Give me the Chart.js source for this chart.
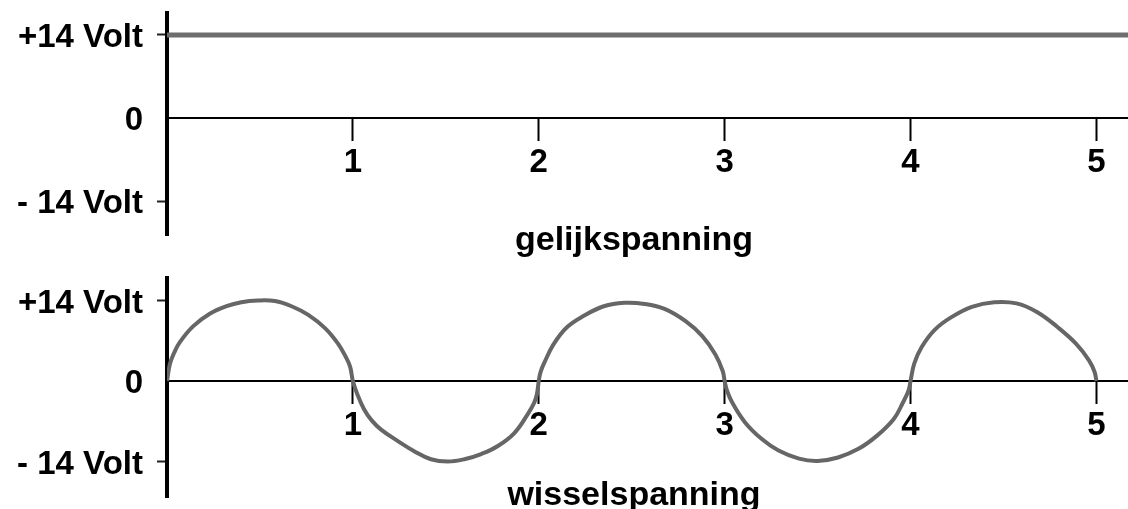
<!DOCTYPE html>
<html lang="nl">
<head>
<meta charset="utf-8">
<title>Gelijkspanning en wisselspanning</title>
<script src="https://cdn.jsdelivr.net/npm/chart.js@4.4.1/dist/chart.umd.min.js"></script>
<style>
  html, body { margin: 0; padding: 0; background: #fff; }
  #wrap { position: relative; width: 1128px; height: 509px; }
  canvas { position: absolute; left: 0; }
  #dcChart { top: 0; }
  #acChart { top: 260px; }
</style>
</head>
<body>
<div id="wrap">
  <canvas id="dcChart" width="1128" height="260"></canvas>
  <canvas id="acChart" width="1128" height="249"></canvas>
</div>
<script>
// Axis ticks: time in periods, voltage in volts
const timeTicks = [1, 2, 3, 4, 5];
const voltTicks = [-14, 0, 14];
const voltLabels = ['- 14 Volt', '0', '+14 Volt'];

// Direct voltage: a flat +14 V
const dcTime = [0, 5.17];
const dcVolt = [14, 14];

// Alternating voltage, one row per half period
const acTime = [
  0, 0.016, 0.04, 0.07, 0.14, 0.23, 0.32, 0.40, 0.49, 0.58, 0.67, 0.76, 0.85, 0.92, 0.96, 0.985,
  1, 1.024, 1.06, 1.10, 1.15, 1.24, 1.33, 1.42, 1.51, 1.60, 1.69, 1.78, 1.87, 1.94, 1.975, 1.99,
  2, 2.01, 2.03, 2.08, 2.15, 2.24, 2.35, 2.46, 2.57, 2.68, 2.79, 2.88, 2.95, 2.99,
  3, 3.012, 3.04, 3.11, 3.20, 3.29, 3.40, 3.50, 3.61, 3.72, 3.82, 3.91, 3.96, 3.99,
  4, 4.02, 4.06, 4.13, 4.22, 4.33, 4.45, 4.57, 4.68, 4.79, 4.89, 4.96, 4.99, 5
];
const acVolt = [
  0, 3.0, 5.0, 6.8, 9.5, 11.7, 13.0, 13.7, 14.0, 13.9, 13.0, 11.5, 9.2, 6.5, 4.3, 2.5,
  0, -2.3, -4.9, -6.8, -8.4, -10.4, -12.2, -13.6, -14.0, -13.6, -12.7, -11.3, -9.0, -5.8, -3.8, -2.3,
  0, 1.6, 3.2, 6.4, 9.3, 11.3, 13.0, 13.6, 13.4, 12.5, 10.4, 7.8, 4.6, 1.7,
  0, -1.6, -3.7, -7.2, -10.1, -12.1, -13.5, -13.9, -13.3, -11.8, -9.5, -6.6, -3.7, -1.6,
  0, 3.0, 5.9, 8.9, 11.1, 12.9, 13.7, 13.5, 12.0, 9.4, 6.5, 3.6, 1.6, 0
];

const FONT = '"Liberation Sans", Arial, sans-serif';

// Caption under each panel
const captionPlugin = {
  id: 'caption',
  afterDraw(chart, args, opts) {
    const ctx = chart.ctx;
    ctx.save();
    ctx.font = 'bold 34px ' + FONT;
    ctx.fillStyle = '#000';
    ctx.textAlign = 'center';
    ctx.textBaseline = 'alphabetic';
    ctx.fillText(opts.text, opts.x, opts.y);
    ctx.restore();
  }
};

// tick labels may hang outside the plot, they must not shrink it
function noLabelPadding(scale) {
  scale.paddingTop = 0;
  scale.paddingBottom = 0;
  scale.paddingLeft = 0;
  scale.paddingRight = 0;
}

function makeChart(canvasId, time, volt, cfg) {
  const points = time.map((t, i) => ({ x: t, y: volt[i] }));

  return new Chart(document.getElementById(canvasId), {
    type: 'line',
    data: {
      datasets: [{
        data: points,
        borderColor: cfg.lineColor,
        borderWidth: cfg.lineWidth,
        pointRadius: 0,
        tension: 0.4,
        fill: false
      }]
    },
    options: {
      responsive: false,
      animation: false,
      events: [],
      layout: { padding: { top: cfg.padTop, bottom: cfg.padBottom, left: 0, right: 0 } },
      plugins: {
        legend: { display: false },
        tooltip: { enabled: false },
        caption: { text: cfg.caption, x: 634, y: cfg.captionY }
      },
      scales: {
        x: {
          type: 'linear',
          min: 0,
          max: 5.17,
          position: { y: 0 },
          afterBuildTicks: scale => { scale.ticks = timeTicks.map(v => ({ value: v })); },
          afterFit: noLabelPadding,
          grid: { drawOnChartArea: false, tickLength: 22, tickColor: '#000', tickWidth: 2 },
          border: { color: '#000', width: 2 },
          ticks: {
            color: '#000',
            padding: 3,
            font: { family: FONT, size: 33, weight: 'bold' },
            callback: v => String(v)
          }
        },
        y: {
          type: 'linear',
          min: cfg.yMin,
          max: cfg.yMax,
          afterFit: scale => { scale.width = 167; noLabelPadding(scale); },
          afterBuildTicks: scale => { scale.ticks = voltTicks.map(v => ({ value: v })); },
          grid: {
            drawOnChartArea: false,
            tickLength: 10,
            tickWidth: 2,
            tickColor: c => (c.tick && c.tick.value === 0) ? 'rgba(0,0,0,0)' : '#222'
          },
          border: { color: '#000', width: 4 },
          ticks: {
            color: '#000',
            padding: 14,
            labelOffset: 3,
            font: { family: FONT, size: 33, weight: 'bold' },
            callback: v => voltLabels[voltTicks.indexOf(v)]
          }
        }
      }
    },
    plugins: [captionPlugin]
  });
}

makeChart('dcChart', dcTime, dcVolt, {
  lineColor: '#6e6e6e', lineWidth: 5,
  padTop: 13, padBottom: 25,
  yMin: -19.7, yMax: 17.7,
  caption: 'gelijkspanning', captionY: 250
});

makeChart('acChart', acTime, acVolt, {
  lineColor: '#666', lineWidth: 4,
  padTop: 18, padBottom: 12,
  yMin: -20.17, yMax: 17.91,
  caption: 'wisselspanning', captionY: 245
});
</script>
</body>
</html>
